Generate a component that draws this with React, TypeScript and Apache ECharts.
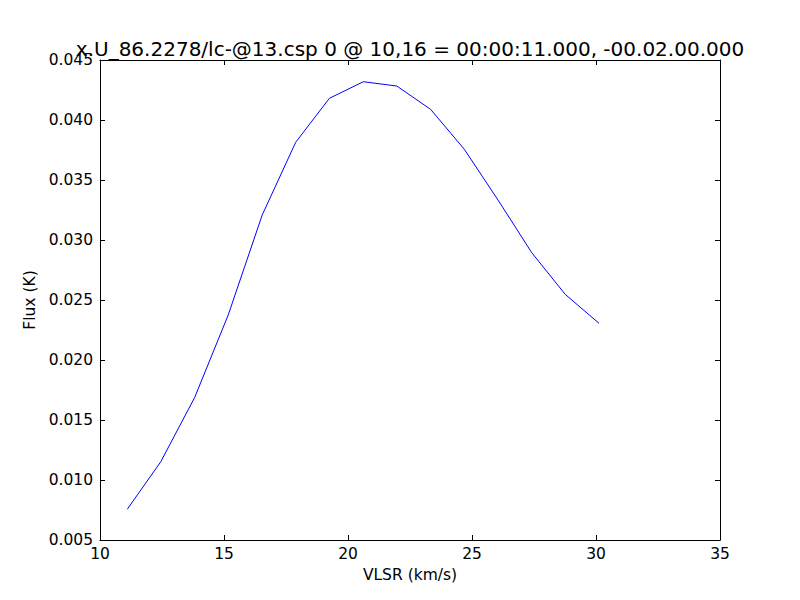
import React, { useEffect, useRef } from "react";
import * as echarts from "echarts";

const titleText = "x.U_86.2278/lc-@13.csp 0 @ 10,16 = 00:00:11.000, -00.02.00.000";
const xName = "VLSR (km/s)";
const yName = "Flux (K)";

const velocity = [11.1, 12.45, 13.82, 15.17, 16.54, 17.89, 19.25, 20.62, 21.97, 23.33, 24.69, 26.05, 27.41, 28.76, 30.12];
const flux = [0.00756, 0.01152, 0.01689, 0.02375, 0.03208, 0.03814, 0.04181, 0.04319, 0.04283, 0.04089, 0.03756, 0.03333, 0.02894, 0.02547, 0.02306];

const FONT = "DejaVu Sans";

export default function App() {
  const ref = useRef<HTMLDivElement>(null);
  useEffect(() => {
    document.body.style.margin = "0";
    if (!ref.current) return;
    const chart = echarts.init(ref.current, null, { renderer: "svg" });
    const axisCommon = {
      axisLine: { show: true, lineStyle: { color: "#000", width: 1 } },
      axisTick: { show: true, inside: true, length: 5, lineStyle: { color: "#000", width: 1 } },
      splitLine: { show: false },
    };
    chart.setOption({
      animation: false,
      backgroundColor: "#fff",
      title: {
        text: titleText,
        left: 405,
        top: 34,
        textAlign: "center",
        textStyle: { fontFamily: FONT, fontSize: 20, fontWeight: "normal", color: "#000" },
      },
      grid: { left: 100, right: 80, top: 60, bottom: 60, containLabel: false },
      xAxis: [
        {
          type: "value",
          position: "bottom",
          min: 10,
          max: 35,
          interval: 5,
          name: xName,
          nameLocation: "middle",
          nameGap: 23,
          nameTextStyle: { fontFamily: FONT, fontSize: 15.5, color: "#000" },
          axisLabel: { fontFamily: FONT, fontSize: 15.5, color: "#000", margin: 6 },
          ...axisCommon,
        },
        {
          type: "value",
          position: "top",
          min: 10,
          max: 35,
          interval: 5,
          axisLabel: { show: false },
          ...axisCommon,
        },
      ],
      yAxis: [
        {
          type: "value",
          position: "left",
          min: 0.005,
          max: 0.045,
          interval: 0.005,
          name: yName,
          nameLocation: "middle",
          nameGap: 55,
          nameTextStyle: { fontFamily: FONT, fontSize: 15.5, color: "#000" },
          axisLabel: {
            fontFamily: FONT,
            fontSize: 15.5,
            color: "#000",
            margin: 7,
            formatter: (v: number) => v.toFixed(3),
          },
          ...axisCommon,
        },
        {
          type: "value",
          position: "right",
          min: 0.005,
          max: 0.045,
          interval: 0.005,
          axisLabel: { show: false },
          ...axisCommon,
        },
      ],
      series: [
        {
          type: "line",
          xAxisIndex: 0,
          yAxisIndex: 0,
          data: velocity.map((v, i) => [v, flux[i]]),
          showSymbol: false,
          symbol: "none",
          lineStyle: { color: "#0000ff", width: 1 },
        },
      ],
    });
    return () => chart.dispose();
  }, []);
  return <div ref={ref} style={{ width: 800, height: 600 }} />;
}
